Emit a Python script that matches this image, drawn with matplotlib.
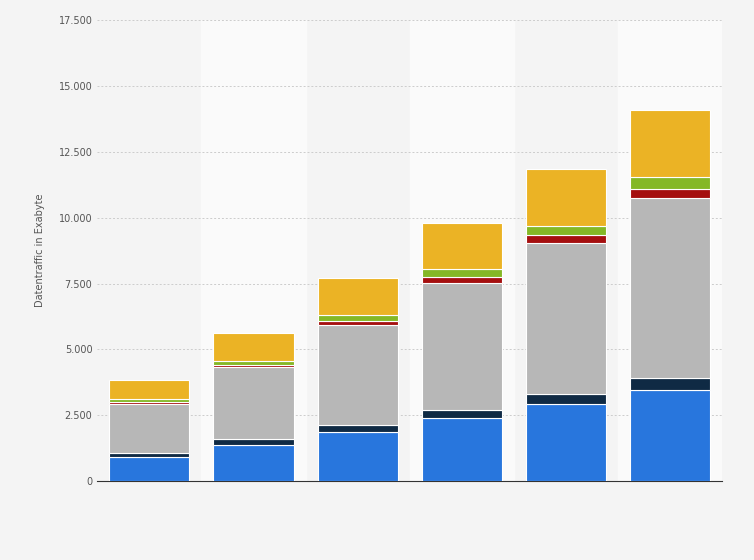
import numpy as np
import matplotlib.pyplot as plt

# cumulative tops, converted to segment sizes
years = ["2017", "2018", "2019", "2020", "2021", "2022"]
blue = [911, 1367, 1860, 2392, 2923, 3454]
navy = [152, 227, 266, 303, 380, 456]
gray = [1860, 2733, 3796, 4821, 5732, 6833]
red = [77, 76, 152, 228, 303, 342]
green = [113, 152, 228, 304, 342, 455]
yellow = [721, 1063, 1404, 1746, 2164, 2544]

series = [blue, navy, gray, red, green, yellow]
colors = ["#2876dd", "#0f2a44", "#b7b7b7", "#a50f0f", "#84b826", "#ebb325"]

fig = plt.figure(figsize=(7.54, 5.60), dpi=100)
fig.patch.set_facecolor("#f4f4f4")
ax = fig.add_axes([0.129, 0.141, 0.829, 0.823])
ax.set_facecolor("#f4f4f4")

x = np.arange(len(years))
for i in x:
    if i % 2 == 1:
        ax.axvspan(i - 0.5, i + 0.5, color="#fafafa", zorder=0)

bottom = np.zeros(len(years))
for vals, c in zip(series, colors):
    ax.bar(x, vals, bottom=bottom, width=0.77, color=c, edgecolor="white",
           linewidth=0.8, zorder=3)
    bottom += np.array(vals)

ax.set_xlim(-0.5, len(years) - 0.5)
ax.set_ylim(0, 17500)
ticks = np.arange(0, 17501, 2500)
ax.set_yticks(ticks)
ax.set_yticklabels([f"{t:,}".replace(",", ".") for t in ticks], fontsize=7, color="#555555")
ax.set_xticks([])
ax.grid(axis="y", linestyle=(0, (2, 2)), color="#cccccc", linewidth=0.7, zorder=1)
ax.set_ylabel("Datentraffic in Exabyte", fontsize=7, color="#555555", labelpad=10)
for s in ["top", "right", "left"]:
    ax.spines[s].set_visible(False)
ax.spines["bottom"].set_color("#333333")
ax.tick_params(axis="y", length=0)

fig.savefig("out.png", dpi=100, facecolor=fig.get_facecolor())
